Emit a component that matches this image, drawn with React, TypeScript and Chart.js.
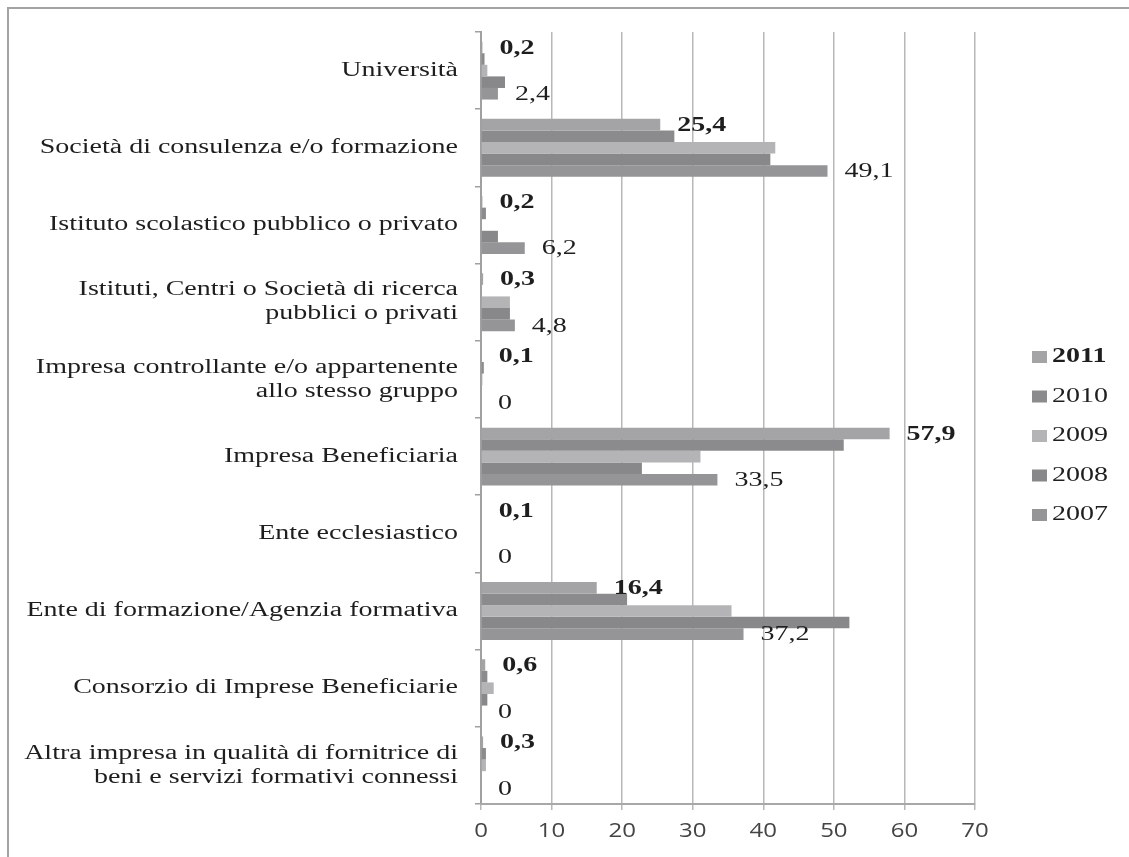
import React, { useEffect, useRef } from "react";
import { Chart, registerables } from "chart.js";

Chart.register(...registerables);

const categories: string[][] = [
  ["Università"],
  ["Società di consulenza e/o formazione"],
  ["Istituto scolastico pubblico o privato"],
  ["Istituti, Centri o Società di ricerca", "pubblici o privati"],
  ["Impresa controllante e/o appartenente", "allo stesso gruppo"],
  ["Impresa Beneficiaria"],
  ["Ente ecclesiastico"],
  ["Ente di formazione/Agenzia formativa"],
  ["Consorzio di Imprese Beneficiarie"],
  ["Altra impresa in qualità di fornitrice di", "beni e servizi formativi connessi"],
];

const years = ["2011", "2010", "2009", "2008", "2007"];

const v2011 = [0.2, 25.4, 0.2, 0.3, 0.1, 57.9, 0.1, 16.4, 0.6, 0.3];
const v2010 = [0.5, 27.4, 0.7, 0, 0.4, 51.4, 0, 20.7, 0.9, 0.7];
const v2009 = [0.9, 41.7, 0, 4.1, 0.2, 31.1, 0.1, 35.5, 1.8, 0.7];
const v2008 = [3.4, 41.0, 2.4, 4.1, 0, 22.8, 0, 52.2, 0.9, 0];
const v2007 = [2.4, 49.1, 6.2, 4.8, 0, 33.5, 0, 37.2, 0, 0];

const xTicks = [0, 10, 20, 30, 40, 50, 60, 70];

const colors = ["#a4a4a6", "#8b8b8d", "#b4b4b6", "#88888a", "#959597"];

const fmt = (v: number) => String(v).replace(".", ",");

const SX = 1.4;

const textPlugin = {
  id: "customTexts",
  beforeDraw(chart: any) {
    const ctx = chart.ctx;
    ctx.save();
    ctx.fillStyle = "#ffffff";
    ctx.fillRect(0, 0, chart.width, chart.height);
    ctx.strokeStyle = "#a3a3a3";
    ctx.lineWidth = 2;
    ctx.beginPath();
    ctx.moveTo(8, chart.height);
    ctx.lineTo(8, 8);
    ctx.lineTo(chart.width, 8);
    ctx.stroke();
    ctx.restore();
  },
  afterDraw(chart: any) {
    const ctx = chart.ctx;
    const draw = (
      text: string,
      x: number,
      y: number,
      font: string,
      color: string,
      align: CanvasTextAlign,
      sx: number = SX
    ) => {
      ctx.save();
      ctx.translate(x, y);
      ctx.scale(sx, 1);
      ctx.font = font;
      ctx.fillStyle = color;
      ctx.textAlign = align;
      ctx.textBaseline = "middle";
      ctx.fillText(text, 0, 0);
      ctx.restore();
    };
    const ys = chart.scales.y;
    const xs = chart.scales.x;
    const area = chart.chartArea;

    categories.forEach((lines, i) => {
      const yc = ys.getPixelForTick(i);
      const lh = 24;
      lines.forEach((ln, j) =>
        draw(
          ln,
          area.left - 23,
          yc + (j - (lines.length - 1) / 2) * lh,
          '20px "Liberation Serif"',
          "#1e1e1e",
          "right"
        )
      );
    });

    xTicks.forEach((v) =>
      draw(String(v), xs.getPixelForValue(v), area.bottom + 27, '20px "Open Sans"', "#444444", "center", 1.2)
    );

    const labelled: [number, string][] = [
      [0, "bold "],
      [4, ""],
    ];
    labelled.forEach(([di, w]) => {
      const meta = chart.getDatasetMeta(di);
      meta.data.forEach((bar: any, i: number) => {
        const val = chart.data.datasets[di].data[i] as number;
        draw(fmt(val), bar.x + 17, bar.y + 1, `${w}20px "Liberation Serif"`, "#1e1e1e", "left");
      });
    });

    years.forEach((yr, k) => {
      const yy = 357 + k * 39.5;
      ctx.save();
      ctx.fillStyle = colors[k];
      ctx.fillRect(area.right + 57, yy - 6, 15, 12);
      ctx.restore();
      draw(yr, area.right + 77, yy, `${k === 0 ? "bold " : ""}20px "Liberation Serif"`, "#1e1e1e", "left");
    });
  },
};

export default function App() {
  const ref = useRef<HTMLCanvasElement | null>(null);

  useEffect(() => {
    if (!ref.current) return;
    const series = [v2011, v2010, v2009, v2008, v2007];
    const chart = new Chart(ref.current, {
      type: "bar",
      data: {
        labels: categories.map((c) => c.join(" ")),
        datasets: years.map((yr, k) => ({
          label: yr,
          data: series[k],
          backgroundColor: colors[k],
          borderWidth: 0,
          categoryPercentage: 0.75,
          barPercentage: 1.0,
        })),
      },
      options: {
        indexAxis: "y",
        responsive: false,
        animation: false,
        layout: { padding: { left: 0, top: 32, right: 154, bottom: 0 } },
        plugins: {
          legend: { display: false },
          tooltip: { enabled: false },
        },
        scales: {
          y: {
            type: "category",
            offset: true,
            grid: {
              offset: true,
              drawOnChartArea: false,
              color: "#a0a0a0",
              lineWidth: 1.5,
              tickLength: 6,
            },
            border: { color: "#a0a0a0", width: 2 },
            ticks: { display: false },
            afterFit: (s: any) => {
              s.width = 481;
            },
          },
          x: {
            min: 0,
            max: 70,
            ticks: { stepSize: 10, display: false },
            grid: { color: "#b8b8b8", lineWidth: 1.5, tickLength: 6 },
            border: { color: "#a8a8a8", width: 2 },
            afterFit: (s: any) => {
              s.height = 53;
            },
          },
        },
      },
      plugins: [textPlugin],
    });
    return () => chart.destroy();
  }, []);

  return (
    <div style={{ position: "fixed", left: 0, top: 0, width: 1129, height: 857, background: "#fff" }}>
      <canvas ref={ref} width={1129} height={857} />
    </div>
  );
}
